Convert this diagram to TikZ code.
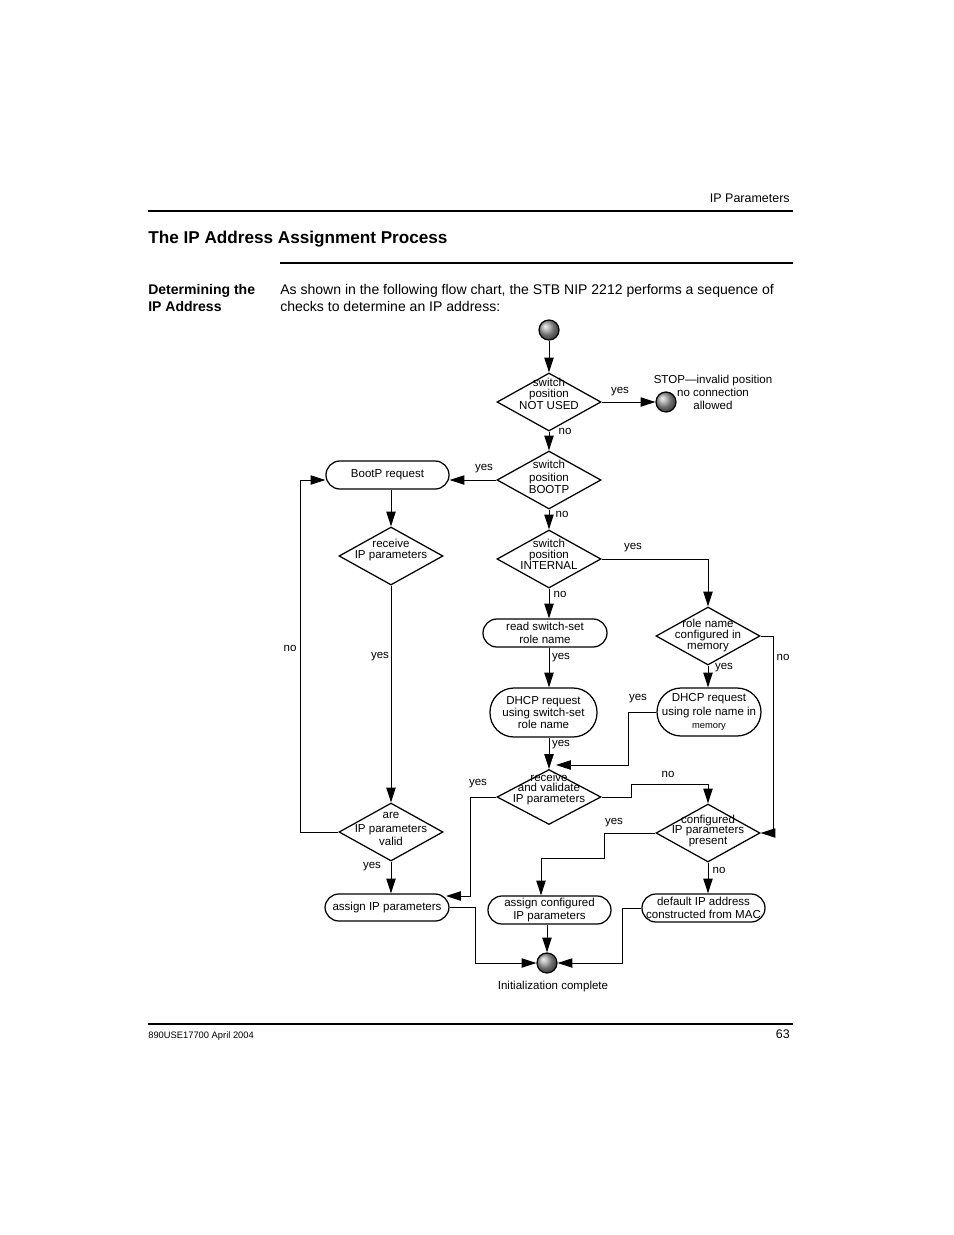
\documentclass[tikz,border=0pt]{standalone}
\usepackage{fontspec}
\setmainfont{Liberation Sans}
\usetikzlibrary{shapes.geometric,arrows.meta}
\newlength\pxu
\setlength\pxu{0.6415pt}

\begin{document}
\begin{tikzpicture}[x=\pxu,y=-\pxu]
	\tikzstyle{flow} = [draw=black, line width=0.6pt, -{Triangle[length=9.5pt,width=6pt]}]
	\tikzstyle{rule} = [draw=black, line width=0.7pt]
	\tikzstyle{box} = [draw=black, line width=0.8pt, rectangle, rounded corners=13.9\pxu, inner sep=0pt, align=center,
		minimum width=123\pxu, minimum height=28\pxu, font=\fontsize{7.4}{8}\selectfont]
	\tikzstyle{bigbox} = [box, rounded corners=24\pxu, minimum height=48\pxu]
	\tikzstyle{decision} = [draw=black, line width=0.8pt, diamond, inner sep=0pt,
		minimum width=104\pxu, minimum height=58\pxu]
	\tikzstyle{dtext} = [inner sep=0pt, align=center, font=\fontsize{7.4}{7}\selectfont]
	\tikzstyle{ball} = [circle, draw=black, line width=0.8pt, ball color=gray!75, inner sep=0pt, minimum size=20\pxu]
	\tikzstyle{lbl} = [inner sep=0pt, font=\fontsize{7.4}{8.3}\selectfont]
	\useasboundingbox[fill=white] (0,0) rectangle (954,1235);
		\node[lbl, anchor=east, font=\fontsize{8}{9}\selectfont] (hdr) at (790,198) {IP Parameters};
	\draw[rule] (148,211) -- (793,211);
		\node[lbl, anchor=west, font=\bfseries\fontsize{11}{13}\selectfont] (title) at (148,239.5) {The IP Address Assignment Process};
	\draw[rule] (280,263) -- (793,263);
		\node[lbl, anchor=north west, align=left, font=\bfseries\fontsize{9}{10.9}\selectfont] (side) at (148,284.5) {Determining the\\IP Address};
		\node[lbl, anchor=north west, align=left, font=\fontsize{9}{10.9}\selectfont] (intro) at (280,284.5)
			{As shown in the following flow chart, the STB NIP 2212 performs a sequence of\\checks to determine an IP address:};
	\draw[rule] (148,1024) -- (793,1024);
		\node[lbl, anchor=west, font=\fontsize{6}{7}\selectfont] (foot) at (148,1036) {890USE17700 April 2004};
		\node[lbl, anchor=east, font=\fontsize{8}{9}\selectfont] (page) at (790,1034) {63};

		\node[ball] (start) at (549,330) {};
		\node[decision] (notused) at (549,402) {};
		\node[dtext, font=\fontsize{7.4}{6.7}\selectfont] (notusedt) at (549,394) {switch\\position\\NOT USED};
		\node[ball] (stop) at (666,402) {};
		\node[lbl, align=center] (stopt) at (713,392) {STOP—invalid position\\no connection\\allowed};
		\node[decision] (bootsw) at (549,480) {};
		\node[dtext, font=\fontsize{7.4}{8}\selectfont] (bootswt) at (549,477) {switch\\position\\BOOTP};
		\node[box] (bootp) at (387.5,475) {BootP request};
		\node[decision] (recv) at (391,556) {};
		\node[dtext] (recvt) at (391,550) {receive\\IP parameters};
		\node[decision] (valid) at (391,832) {};
		\node[dtext, font=\fontsize{7.4}{8.6}\selectfont] (validt) at (391,829) {are\\IP parameters\\valid};
		\node[box, minimum width=124\pxu, minimum height=27\pxu] (assign) at (387,907.5) {assign IP parameters};
		\node[decision] (internal) at (549,559) {};
		\node[dtext] (internalt) at (549,554) {switch\\position\\INTERNAL};
		\node[box, minimum width=124\pxu] (readsw) at (545,633) {read switch-set\\role name};
		\node[bigbox, minimum width=107\pxu, minimum height=49\pxu] (dhcpsw) at (543.5,712.5) {DHCP request\\using switch-set\\role name};
		\node[decision] (rolemem) at (708,636) {};
		\node[dtext, font=\fontsize{7.4}{6.8}\selectfont] (rolememt) at (708,635.5) {role name\\configured in\\memory};
		\node[bigbox, minimum width=104\pxu, font=\fontsize{7.4}{8.6}\selectfont] (dhcprole) at (709,712)
			{DHCP request\\using role name in\\{\fontsize{6}{7}\selectfont memory}};
		\node[decision, minimum height=55\pxu] (recvval) at (549,797) {};
		\node[dtext, font=\fontsize{7.4}{6.8}\selectfont] (recvvalt) at (549,789) {receive\\and validate\\IP parameters};
		\node[decision] (confpres) at (708,833) {};
		\node[dtext, font=\fontsize{7.4}{6.8}\selectfont] (confprest) at (708,831) {configured\\IP parameters\\present};
		\node[box] (assignconf) at (549.5,910) {assign configured\\IP parameters};
		\node[box] (macip) at (703.5,908) {default IP address\\constructed from MAC};
		\node[ball] (finish) at (547,963) {};
		\node[lbl] (finisht) at (553,987) {Initialization complete};

		\node[lbl] (y1) at (620,392) {yes};
		\node[lbl] (n1) at (565,431) {no};
		\node[lbl] (y2) at (484,469) {yes};
		\node[lbl] (n2) at (562,514) {no};
		\node[lbl] (y3) at (633,548) {yes};
		\node[lbl] (n3) at (560,594) {no};
		\node[lbl] (y4) at (561,658) {yes};
		\node[lbl] (y5) at (561,745) {yes};
		\node[lbl] (y6) at (724,668) {yes};
		\node[lbl] (n4) at (783,657) {no};
		\node[lbl] (y7) at (638,699) {yes};
		\node[lbl] (n5) at (290,648) {no};
		\node[lbl] (y8) at (380,657) {yes};
		\node[lbl] (y9) at (372,867) {yes};
		\node[lbl] (y10) at (478,784) {yes};
		\node[lbl] (n6) at (668,774) {no};
		\node[lbl] (y11) at (614,823) {yes};
		\node[lbl] (n7) at (719,870) {no};

		\coordinate (recvin) at (556,765);
		\coordinate (assignin) at (446,896);
	\draw[flow] (start) -- (notused.north);
	\draw[flow] (notused.east) -- (stop.west);
	\draw[flow] (notused.south) -- (bootsw.north);
	\draw[flow] (bootsw.west) -- (bootsw.west -| bootp.east);
	\draw[flow] (bootsw.south) -- (internal.north);
	\draw[flow] (recv.north |- bootp.south) -- (recv.north);
	\draw[flow] (recv.south) -- (valid.north);
	\draw[flow] (valid.south) -- (valid.south |- assign.north);
	\draw[flow] (valid.west) -| (300,480) -- (bootp.west |- bootsw.west);
	\draw[flow] (internal.east) -| (rolemem.north);
	\draw[flow] (internal.south) -- (internal.south |- readsw.north);
	\draw[flow] (internal.south |- readsw.south) -- (internal.south |- dhcpsw.north);
	\draw[flow] (internal.south |- dhcpsw.south) -- (recvval.north);
	\draw[flow] (rolemem.south) -- (rolemem.south |- dhcprole.north);
	\draw[flow] (rolemem.east) -- ++(13,0) |- (confpres.east);
	\draw[flow] (dhcprole.west) -- ++(-28,0) |- (recvin);
	\draw[flow] (recvval.west) -- ++(-26,0) |- (assignin);
	\draw[flow] (recvval.east) -- ++(30,0) -- ++(0,-13) -| (confpres.north);
	\draw[flow] (confpres.west) -- ++(-51,0) -- ++(0,25) -| ([xshift=-8.5\pxu]assignconf.north);
	\draw[flow] (confpres.south) -- (confpres.south |- macip.north);
	\draw[flow] (finish.north |- assignconf.south) -- (finish.north);
	\draw[flow] (assign.east) -- ++(26,0) |- (finish.west);
	\draw[flow] (macip.west) -- ++(-19,0) |- (finish.east);
	\end{tikzpicture}
\end{document}
